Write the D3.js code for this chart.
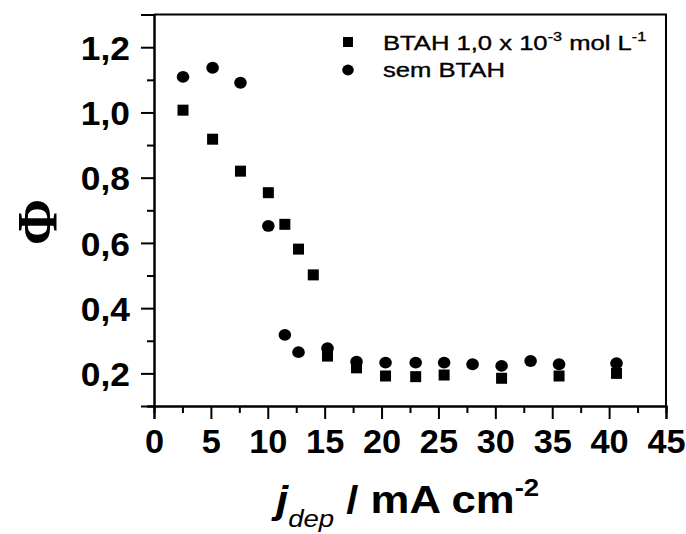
<!DOCTYPE html>
<html>
<head>
<meta charset="utf-8">
<script src="https://cdn.jsdelivr.net/npm/d3@7"></script>
<style>
  body { margin: 0; background: #fff; }
  svg { display: block; }
</style>
</head>
<body>
<svg id="chart" width="686" height="534"></svg>
<script>
// Deposition current density (mA cm^-2) and Faradaic efficiency Φ
const btahX   = [2.55, 5.15, 7.6, 10.05, 11.5, 12.7, 14.0, 15.25, 17.8, 20.35, 23.0, 25.5, 30.55, 35.6, 40.65];
const btahPhi = [1.007, 0.918, 0.820, 0.754, 0.657, 0.581, 0.502, 0.253, 0.217, 0.192, 0.190, 0.195, 0.185, 0.192, 0.200];
const semX    = [2.55, 5.15, 7.6, 10.05, 11.5, 12.7, 15.25, 17.8, 20.35, 23.0, 25.5, 28.0, 30.55, 33.1, 35.6, 40.65];
const semPhi  = [1.109, 1.137, 1.091, 0.652, 0.318, 0.265, 0.277, 0.236, 0.233, 0.233, 0.233, 0.228, 0.223, 0.238, 0.228, 0.231];

const xMajor = [0, 5, 10, 15, 20, 25, 30, 35, 40, 45];
const xMinor = [2.5, 7.5, 12.5, 17.5, 22.5, 27.5, 32.5, 37.5, 42.5];
const yMajor = [0.2, 0.4, 0.6, 0.8, 1.0, 1.2];
const yMinor = [0.1, 0.3, 0.5, 0.7, 0.9, 1.1];

const legendLabels = ["BTAH 1,0 x 10", "sem BTAH"];

const svg = d3.select("#chart");
const plotLeft = 154, plotRight = 666, plotTop = 14.6, plotBottom = 406;

const x = d3.scaleLinear().domain([0, 45]).range([plotLeft, plotRight]);
const y = d3.scaleLinear().domain([0.1, 1.3]).range([plotBottom, plotTop]);

const fmtY = v => d3.format(".1f")(v).replace(".", ",");

// frame (top and right edges)
svg.append("path")
  .attr("d", `M${plotLeft},${plotTop}H${plotRight}V${plotBottom}`)
  .attr("fill", "none").attr("stroke", "#000").attr("stroke-width", 2);

// minor ticks
const minorAxisX = d3.axisBottom(x).tickValues(xMinor).tickSize(7).tickFormat("");
const minorAxisY = d3.axisLeft(y).tickValues(yMinor).tickSize(7).tickFormat("");
svg.append("g").attr("transform", `translate(0,${plotBottom})`).call(minorAxisX);
svg.append("g").attr("transform", `translate(${plotLeft},0)`).call(minorAxisY);

// major axes
const gx = svg.append("g").attr("transform", `translate(0,${plotBottom})`)
  .call(d3.axisBottom(x).tickValues(xMajor).tickSize(13).tickFormat(d3.format("d")));
const gy = svg.append("g").attr("transform", `translate(${plotLeft},0)`)
  .call(d3.axisLeft(y).tickValues(yMajor).tickSize(13).tickFormat(fmtY));

svg.selectAll(".domain").attr("stroke-width", 2).attr("stroke", "#000");
svg.selectAll(".tick line").attr("stroke-width", 2).attr("stroke", "#000");

const tickFont = "'Liberation Sans', Arial, sans-serif";
const sx = 1.04;
gx.selectAll(".tick text")
  .attr("font-family", tickFont).attr("font-size", 33).attr("font-weight", "bold")
  .attr("fill", "#000").attr("y", 47).attr("dy", 0)
  .attr("transform", `scale(${sx},1)`);
gy.selectAll(".tick text")
  .attr("font-family", tickFont).attr("font-size", 34).attr("font-weight", "bold")
  .attr("fill", "#000").attr("x", -24 / sx).attr("dy", "0.36em")
  .attr("transform", `scale(${sx},1)`);

// data markers
svg.append("g").selectAll("rect")
  .data(btahX.map((v, i) => [v, btahPhi[i]]))
  .join("rect")
  .attr("x", d => x(d[0]) - 5.5).attr("y", d => y(d[1]) - 5.5)
  .attr("width", 11).attr("height", 11).attr("fill", "#000");

svg.append("g").selectAll("ellipse")
  .data(semX.map((v, i) => [v, semPhi[i]]))
  .join("ellipse")
  .attr("cx", d => x(d[0])).attr("cy", d => y(d[1]))
  .attr("rx", 6.3).attr("ry", 5.9).attr("fill", "#000");

// legend
const lg = svg.append("g");
lg.append("rect").attr("x", 343).attr("y", 37).attr("width", 10).attr("height", 10).attr("fill", "#000");
lg.append("ellipse").attr("cx", 348).attr("cy", 70).attr("rx", 5.8).attr("ry", 5.4).attr("fill", "#000");

const t1 = lg.append("text").attr("transform", "translate(383,50) scale(1.25,1)")
  .attr("font-family", tickFont).attr("font-size", 20.5).attr("fill", "#000")
  .attr("stroke", "#000").attr("stroke-width", 0.35);
t1.append("tspan").text(legendLabels[0]);
t1.append("tspan").attr("font-size", 13).attr("dy", -9).text("-3");
t1.append("tspan").attr("dy", 9).text(" mol L");
t1.append("tspan").attr("font-size", 13).attr("dy", -9).text("-1");

lg.append("text").attr("transform", "translate(383,77) scale(1.25,1)")
  .attr("font-family", tickFont).attr("font-size", 20.5).attr("fill", "#000")
  .attr("stroke", "#000").attr("stroke-width", 0.35)
  .text(legendLabels[1]);

// axis titles
const xt = svg.append("text").attr("transform", "translate(276,513) scale(1.15,1)")
  .attr("font-family", tickFont).attr("fill", "#000").attr("font-weight", "bold").attr("font-size", 38);
xt.append("tspan").attr("font-style", "italic").text("j");
xt.append("tspan").attr("font-style", "italic").attr("font-weight", "normal").attr("font-size", 24).attr("dy", 14).text("dep");
xt.append("tspan").attr("dy", -14).text(" / mA cm");
xt.append("tspan").attr("font-size", 24).attr("dy", -17).text("-2");

svg.append("text")
  .attr("transform", "translate(37,222) rotate(-90)")
  .attr("text-anchor", "middle").attr("dy", "0.35em")
  .attr("font-family", "'Liberation Serif', 'Times New Roman', serif")
  .attr("font-weight", "bold").attr("font-size", 56).attr("fill", "#000")
  .text("Φ");
</script>
</body>
</html>
